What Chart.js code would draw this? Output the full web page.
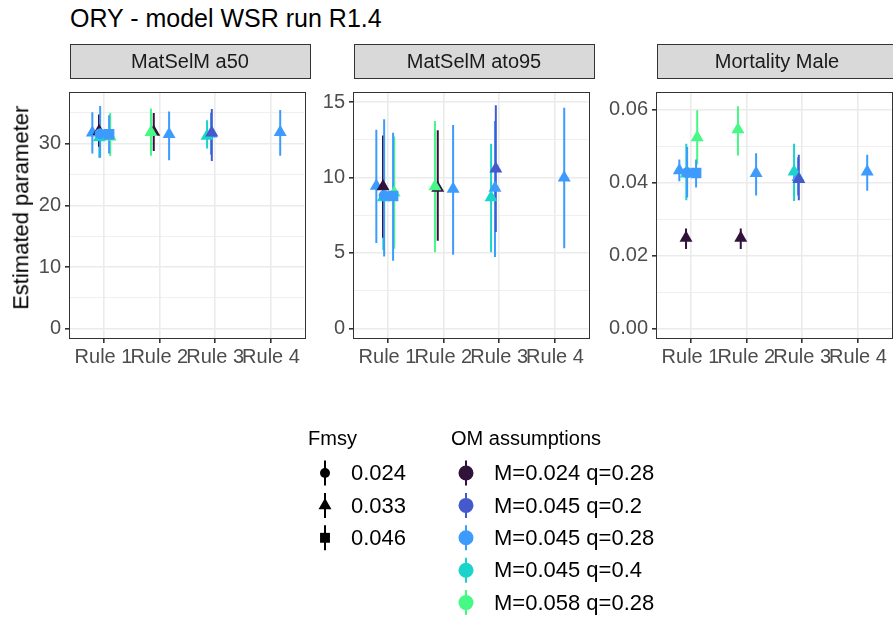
<!DOCTYPE html>
<html>
<head>
<meta charset="utf-8">
<script src="https://cdn.jsdelivr.net/npm/chart.js@4.4.1/dist/chart.umd.min.js"></script>
<style>
  html, body { margin: 0; padding: 0; background: #ffffff; overflow: hidden; }
  body { width: 893px; height: 619px; position: relative; font-family: "Liberation Sans", Arial, sans-serif; }
  .txt { position: absolute; white-space: nowrap; }
  canvas { position: absolute; }
  .strip { position: absolute; box-sizing: border-box; background: #d9d9d9; border: 1px solid #333333; }
</style>
</head>
<body>
<script>
// ---- data -------------------------------------------------------------
const rules = ['Rule 1', 'Rule 2', 'Rule 3', 'Rule 4'];
const parameters = ['MatSelM a50', 'MatSelM ato95', 'Mortality Male'];
const omLabels = ['M=0.024 q=0.28', 'M=0.045 q=0.2', 'M=0.045 q=0.28', 'M=0.045 q=0.4', 'M=0.058 q=0.28'];
const fmsyLabels = ['0.024', '0.033', '0.046'];

// one entry per projection run (rule, OM scenario, Fmsy level), in painting order
const runRule = [1, 2, 3, 4, 1, 3, 1, 2, 1, 1, 2, 1, 3];
const runOM   = [2, 2, 2, 2, 3, 3, 0, 0, 2, 4, 4, 2, 1];
const runFmsy = [1, 1, 1, 1, 1, 1, 1, 1, 0, 1, 1, 2, 1];
// horizontal jitter of each run around its rule (in rule units)
const runJitter = [-0.20, 0.175, -0.075, 0.165, -0.075, -0.145, -0.08, -0.10, -0.06, 0.12, -0.15, 0.10, -0.06];

// estimates with lower / upper interval bounds, one array per parameter
const a50Est  = [31.75, 31.5, 31.6, 31.85, 31.0, 31.25, 32.0, 31.9, 31.6, 31.1, 31.85, 31.5, 31.75];
const a50Low  = [28.4, 27.3, 28.2, 28.05, 27.7, 29.2, 29.5, 28.8, 27.7, 28.0, 28.05, 28.4, 27.2];
const a50High = [35.1, 35.2, 35.0, 35.45, 34.5, 33.8, 34.7, 34.95, 36.1, 35.0, 35.7, 34.6, 35.6];

const ato95Est  = [9.44, 9.23, 9.3, 9.98, 8.67, 8.67, 9.40, 9.30, 8.8, 8.98, 9.40, 8.77, 10.58];
const ato95Low  = [5.66, 4.88, 4.73, 5.31, 5.2, 5.04, 6.0, 5.81, 4.77, 5.27, 5.04, 4.48, 6.39];
const ato95High = [13.17, 13.48, 13.75, 14.62, 12.3, 12.24, 12.78, 13.13, 13.86, 12.72, 13.75, 12.97, 14.78];

const mEst  = [0.0434, 0.0426, 0.0415, 0.0430, 0.0425, 0.0430, 0.0249, 0.0249, 0.0428, 0.0524, 0.0546, 0.0427, 0.0410];
const mLow  = [0.0404, 0.0365, 0.0365, 0.0378, 0.0352, 0.0350, 0.0219, 0.0219, 0.0360, 0.0450, 0.0475, 0.0387, 0.0352];
const mHigh = [0.0464, 0.0481, 0.0470, 0.0477, 0.0507, 0.0507, 0.0275, 0.0275, 0.0498, 0.0599, 0.0610, 0.0464, 0.0477];

// axis breaks per facet (free y scales)
const yBreaks = [[0, 10, 20, 30], [0, 5, 10, 15], [0, 0.02, 0.04, 0.06]];
const yBreakLabels = [['0', '10', '20', '30'], ['0', '5', '10', '15'], ['0.00', '0.02', '0.04', '0.06']];
const yMinorBreaks = [[5, 15, 25, 35], [2.5, 7.5, 12.5], [0.01, 0.03, 0.05]];

// ---- appearance --------------------------------------------------------
const FONT = '"Liberation Sans", Arial, sans-serif';
const omColors = ['#30123B', '#4559CD', '#3E9BFE', '#1AD3CB', '#46F884'];
const fmsyStyles = ['circle', 'triangle', 'rect'];
const fmsyRadius = [5.5, 7.5, 7.5];

const facetEst = [a50Est, ato95Est, mEst];
const facetLow = [a50Low, ato95Low, mLow];
const facetHigh = [a50High, ato95High, mHigh];
const facetRange = [[-1.5, 38.2], [-0.64, 15.6], [-0.0025, 0.0646]];

const panelLeft = [70, 354, 657];
const panelTop = 78, panelW = 240, panelH = 260;
const yAxisW = [50, 44, 64];
const xAxisH = 40;

function addText(txt, x, yMid, size, color, align) {
  const d = document.createElement('div');
  d.className = 'txt';
  d.textContent = txt;
  d.style.fontSize = size + 'px';
  d.style.lineHeight = size + 'px';
  d.style.color = color;
  d.style.top = (yMid - 0.4885 * size) + 'px';
  if (align === 'center') {
    d.style.left = (x - 300) + 'px';
    d.style.width = '600px';
    d.style.textAlign = 'center';
  } else {
    d.style.left = x + 'px';
  }
  document.body.appendChild(d);
  return d;
}

// interval lines are painted beneath every point, like a separate range layer
const intervalPlugin = {
  id: 'intervals',
  beforeDatasetsDraw(chart) {
    const { ctx, chartArea, scales } = chart;
    ctx.save();
    ctx.beginPath();
    ctx.rect(chartArea.left, chartArea.top, chartArea.right - chartArea.left, chartArea.bottom - chartArea.top);
    ctx.clip();
    ctx.lineWidth = 2;
    ctx.lineCap = 'butt';
    chart.data.datasets.forEach((ds) => {
      ds.data.forEach((pt) => {
        const px = scales.x.getPixelForValue(pt.x);
        ctx.strokeStyle = ds.backgroundColor;
        ctx.beginPath();
        ctx.moveTo(px, scales.y.getPixelForValue(pt.lo));
        ctx.lineTo(px, scales.y.getPixelForValue(pt.hi));
        ctx.stroke();
      });
    });
    ctx.restore();
  }
};

const panelBorderPlugin = {
  id: 'panelBorder',
  afterDraw(chart) {
    const { ctx, chartArea } = chart;
    ctx.save();
    ctx.strokeStyle = '#333333';
    ctx.lineWidth = 1;
    ctx.strokeRect(Math.round(chartArea.left) - 0.5, Math.round(chartArea.top) - 0.5,
      Math.round(chartArea.right - chartArea.left) + 1, Math.round(chartArea.bottom - chartArea.top) + 1);
    ctx.restore();
  }
};

// ---- facets ------------------------------------------------------------
parameters.forEach((name, p) => {
  const canvas = document.createElement('canvas');
  const cw = yAxisW[p] + panelW + 2;
  const ch = 1 + panelH + xAxisH;
  canvas.width = cw; canvas.height = ch;
  canvas.style.width = cw + 'px'; canvas.style.height = ch + 'px';
  canvas.style.left = (panelLeft[p] - yAxisW[p]) + 'px';
  canvas.style.top = (panelTop - 1) + 'px';
  document.body.appendChild(canvas);

  const datasets = runRule.map((r, i) => ({
    data: [{ x: r + runJitter[i], y: facetEst[p][i], lo: facetLow[p][i], hi: facetHigh[p][i] }],
    backgroundColor: omColors[runOM[i]],
    borderColor: omColors[runOM[i]],
    borderWidth: 0,
    pointStyle: fmsyStyles[runFmsy[i]],
    pointRadius: fmsyRadius[runFmsy[i]],
    pointHoverRadius: fmsyRadius[runFmsy[i]],
    order: runRule.length - i
  }));

  const majors = yBreaks[p];
  const minors = yMinorBreaks[p];
  const [ymin, ymax] = facetRange[p];

  new Chart(canvas.getContext('2d'), {
    type: 'scatter',
    data: { datasets },
    options: {
      responsive: false,
      animation: false,
      events: [],
      layout: { padding: { top: 1, right: 2, left: 0, bottom: 0 } },
      plugins: { legend: { display: false }, tooltip: { enabled: false } },
      scales: {
        x: {
          type: 'linear', min: 0.4, max: 4.6,
          afterBuildTicks: (s) => { s.ticks = rules.map((_, i) => ({ value: i + 1 })); },
          afterFit: (s) => { s.height = xAxisH; },
          ticks: {
            autoSkip: false, maxRotation: 0, minRotation: 0, padding: 2,
            color: '#4d4d4d', font: { family: FONT, size: 20 },
            callback: (v) => rules[Math.round(v) - 1]
          },
          grid: { color: '#ebebeb', lineWidth: 1.6, tickColor: '#333333', tickLength: 5, drawTicks: true },
          border: { display: false }
        },
        y: {
          type: 'linear', min: ymin, max: ymax,
          afterBuildTicks: (s) => {
            const t = majors.map((v) => ({ value: v, minor: false }))
              .concat(minors.map((v) => ({ value: v, minor: true })));
            t.sort((a, b) => a.value - b.value);
            s.ticks = t;
          },
          afterFit: (s) => { s.width = yAxisW[p]; },
          ticks: {
            padding: 4, color: '#4d4d4d', font: { family: FONT, size: 20 },
            callback: (v) => {
              const k = majors.findIndex((m) => Math.abs(m - v) < 1e-9);
              return k >= 0 ? yBreakLabels[p][k] : '';
            }
          },
          grid: {
            color: '#ebebeb',
            lineWidth: (c) => (c.tick && c.tick.minor ? 0.8 : 1.6),
            tickColor: (c) => (c.tick && c.tick.minor ? 'rgba(0,0,0,0)' : '#333333'),
            tickLength: 5, drawTicks: true
          },
          border: { display: false }
        }
      }
    },
    plugins: [intervalPlugin, panelBorderPlugin]
  });

  // facet strip
  const strip = document.createElement('div');
  strip.className = 'strip';
  strip.style.left = (panelLeft[p] - 0.5) + 'px';
  strip.style.top = '44px';
  strip.style.width = (panelW + 1) + 'px';
  strip.style.height = '35px';
  document.body.appendChild(strip);
  addText(name, panelLeft[p] + panelW / 2, 61, 20, '#1a1a1a', 'center');
});

// ---- titles ------------------------------------------------------------
addText('ORY - model WSR run R1.4', 70, 18, 25, '#000000', 'left');
const yTitle = addText('Estimated parameter', 21, 208, 22, '#000000', 'center');
yTitle.style.transform = 'rotate(-90deg)';
yTitle.style.transformOrigin = '50% 48.85%';

// ---- legends -----------------------------------------------------------
const legCanvas = document.createElement('canvas');
legCanvas.width = 420; legCanvas.height = 200;
legCanvas.style.left = '290px'; legCanvas.style.top = '420px';
legCanvas.style.width = '420px'; legCanvas.style.height = '200px';
document.body.appendChild(legCanvas);
const lctx = legCanvas.getContext('2d');

function legendKey(cx, cy, color, style, radius) {
  lctx.strokeStyle = color;
  lctx.fillStyle = color;
  lctx.lineWidth = 2;
  lctx.beginPath();
  lctx.moveTo(cx, cy - 12.5);
  lctx.lineTo(cx, cy + 12.5);
  lctx.stroke();
  Chart.helpers.drawPoint(lctx, { pointStyle: style, radius: radius, rotation: 0, borderWidth: 0 }, cx, cy);
}

const rowStep = 32.4;
addText('Fmsy', 308, 438, 20, '#000000', 'left');
fmsyLabels.forEach((lab, i) => {
  const cy = 473 + i * rowStep;
  legendKey(325 - 290, cy - 420, '#000000', fmsyStyles[i], [5, 7.5, 7][i]);
  addText(lab, 351, cy, 22, '#000000', 'left');
});
addText('OM assumptions', 451, 438, 20, '#000000', 'left');
omLabels.forEach((lab, i) => {
  const cy = 473 + i * rowStep;
  legendKey(466 - 290, cy - 420, omColors[i], 'circle', 7.5);
  addText(lab, 494, cy, 22, '#000000', 'left');
});
</script>
</body>
</html>
